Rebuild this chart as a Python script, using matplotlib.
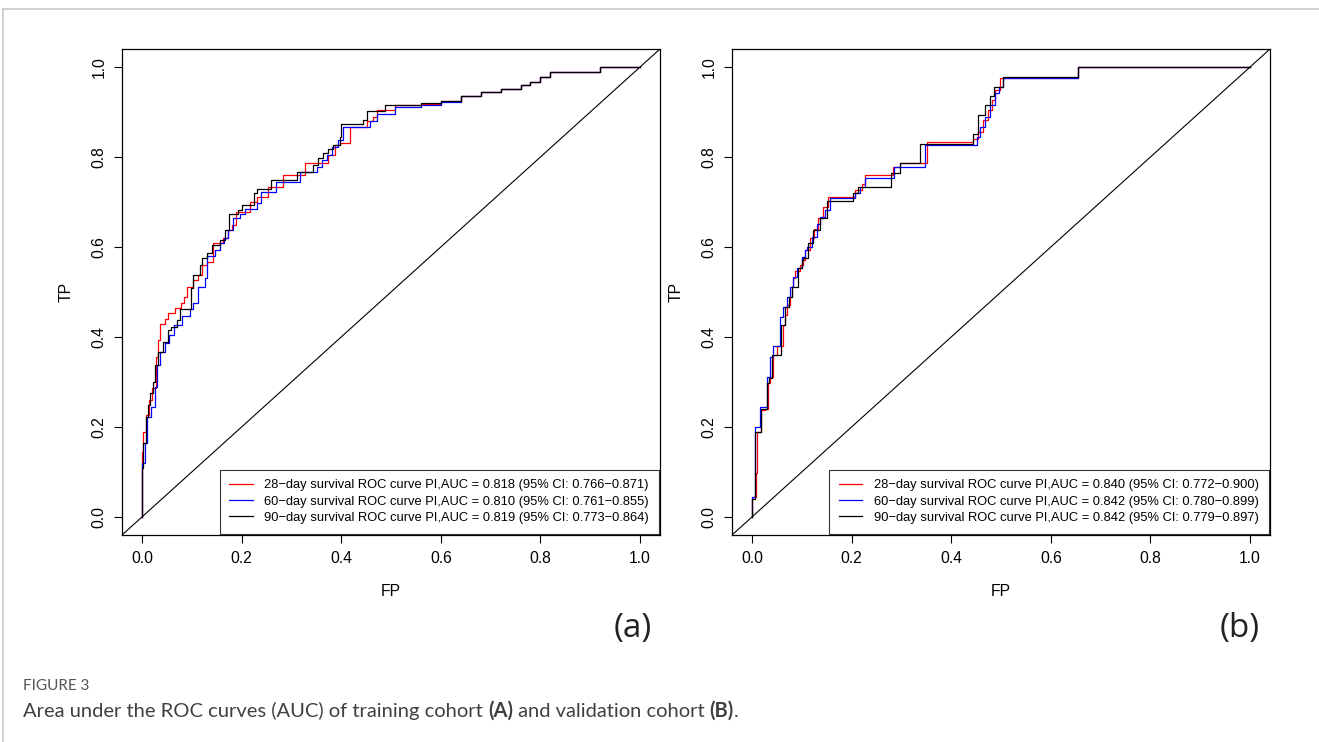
import matplotlib
matplotlib.use("Agg")
import matplotlib.pyplot as plt
from matplotlib.lines import Line2D

plt.rcParams['font.family'] = ['Liberation Sans', 'DejaVu Sans']

# training cohort (a) - step corners of each ROC curve
fp_a_28 = [0, 0, 0.003, 0.009, 0.015, 0.021, 0.028, 0.033, 0.037, 0.046, 0.053, 0.066, 0.078, 0.084,
           0.091, 0.103, 0.113, 0.12, 0.13, 0.143, 0.163, 0.173, 0.18, 0.189, 0.217, 0.23, 0.254, 0.284,
           0.327, 0.374, 0.388, 0.398, 0.418, 0.451, 0.464, 0.471, 0.508, 0.56, 0.60, 0.64, 0.68, 0.72,
           0.76, 0.78, 0.80, 0.82, 0.92, 1.0]
tp_a_28 = [0, 0.145, 0.19, 0.227, 0.26, 0.287, 0.356, 0.393, 0.429, 0.44, 0.453, 0.464, 0.475, 0.49,
           0.512, 0.527, 0.538, 0.56, 0.567, 0.609, 0.62, 0.638, 0.649, 0.678, 0.70, 0.712, 0.734, 0.76,
           0.786, 0.804, 0.826, 0.832, 0.867, 0.88, 0.889, 0.904, 0.916, 0.918, 0.925, 0.935, 0.945, 0.952,
           0.96, 0.967, 0.978, 0.99, 1.0, 1.0]

fp_a_60 = [0, 0, 0.006, 0.011, 0.019, 0.026, 0.031, 0.036, 0.046, 0.055, 0.064, 0.08, 0.096, 0.103,
           0.113, 0.127, 0.13, 0.147, 0.157, 0.165, 0.173, 0.183, 0.197, 0.207, 0.23, 0.24, 0.27, 0.317,
           0.351, 0.361, 0.371, 0.381, 0.394, 0.404, 0.458, 0.471, 0.508, 0.56, 0.60, 0.64, 0.68, 0.72,
           0.76, 0.78, 0.80, 0.82, 0.92, 1.0]
tp_a_60 = [0, 0.12, 0.164, 0.223, 0.245, 0.29, 0.338, 0.367, 0.386, 0.404, 0.427, 0.447, 0.462, 0.475,
           0.512, 0.531, 0.581, 0.593, 0.608, 0.62, 0.638, 0.664, 0.673, 0.684, 0.698, 0.723, 0.745, 0.767,
           0.778, 0.793, 0.804, 0.823, 0.838, 0.867, 0.881, 0.896, 0.911, 0.916, 0.922, 0.935, 0.945, 0.952,
           0.96, 0.967, 0.978, 0.99, 1.0, 1.0]

fp_a_90 = [0, 0, 0.003, 0.008, 0.013, 0.017, 0.023, 0.026, 0.033, 0.043, 0.053, 0.058, 0.07, 0.076,
           0.099, 0.103, 0.116, 0.12, 0.13, 0.14, 0.157, 0.167, 0.175, 0.193, 0.2, 0.224, 0.23, 0.26,
           0.311, 0.344, 0.354, 0.364, 0.374, 0.384, 0.398, 0.399, 0.444, 0.451, 0.488, 0.56, 0.60, 0.64,
           0.68, 0.72, 0.76, 0.78, 0.80, 0.82, 0.92, 1.0]
tp_a_90 = [0, 0.11, 0.164, 0.223, 0.249, 0.275, 0.301, 0.338, 0.367, 0.39, 0.416, 0.423, 0.438, 0.462,
           0.508, 0.538, 0.56, 0.576, 0.587, 0.604, 0.616, 0.638, 0.673, 0.682, 0.693, 0.719, 0.73, 0.749,
           0.767, 0.782, 0.797, 0.808, 0.818, 0.827, 0.845, 0.874, 0.882, 0.903, 0.915, 0.92, 0.925, 0.935,
           0.945, 0.952, 0.96, 0.967, 0.978, 0.99, 1.0, 1.0]

# validation cohort (b)
fp_b_28 = [0, 0, 0.008, 0.011, 0.019, 0.026, 0.033, 0.037, 0.043, 0.05, 0.062, 0.066, 0.07, 0.076,
           0.08, 0.083, 0.086, 0.096, 0.102, 0.106, 0.116, 0.124, 0.133, 0.142, 0.153, 0.207, 0.22, 0.227,
           0.284, 0.297, 0.352, 0.444, 0.454, 0.464, 0.474, 0.481, 0.488, 0.498, 0.655, 1.0]
tp_b_28 = [0, 0.045, 0.097, 0.19, 0.238, 0.24, 0.297, 0.312, 0.36, 0.38, 0.427, 0.449, 0.471, 0.49,
           0.512, 0.531, 0.547, 0.56, 0.571, 0.593, 0.619, 0.641, 0.665, 0.689, 0.712, 0.726, 0.741, 0.76,
           0.778, 0.786, 0.833, 0.84, 0.856, 0.882, 0.904, 0.927, 0.95, 0.975, 1.0, 1.0]

fp_b_60 = [0, 0, 0.006, 0.017, 0.03, 0.036, 0.043, 0.056, 0.063, 0.07, 0.076, 0.082, 0.09, 0.1,
           0.106, 0.11, 0.12, 0.13, 0.137, 0.147, 0.157, 0.207, 0.217, 0.227, 0.285, 0.347, 0.451, 0.458,
           0.468, 0.478, 0.488, 0.495, 0.505, 0.655, 1.0]
tp_b_60 = [0, 0.045, 0.2, 0.245, 0.312, 0.355, 0.379, 0.445, 0.467, 0.49, 0.512, 0.534, 0.553, 0.578,
           0.593, 0.599, 0.623, 0.652, 0.667, 0.682, 0.708, 0.719, 0.734, 0.753, 0.778, 0.827, 0.845, 0.867,
           0.888, 0.916, 0.942, 0.956, 0.975, 1.0, 1.0]

fp_b_90 = [0, 0, 0.006, 0.019, 0.03, 0.035, 0.04, 0.058, 0.066, 0.075, 0.08, 0.093, 0.1, 0.103,
           0.113, 0.123, 0.137, 0.151, 0.203, 0.213, 0.28, 0.297, 0.337, 0.444, 0.454, 0.468, 0.477, 0.486,
           0.505, 0.655, 1.0]
tp_b_90 = [0, 0.04, 0.19, 0.239, 0.297, 0.31, 0.36, 0.427, 0.467, 0.49, 0.512, 0.553, 0.571, 0.575,
           0.608, 0.638, 0.665, 0.703, 0.719, 0.734, 0.764, 0.786, 0.829, 0.851, 0.893, 0.916, 0.936, 0.956,
           0.978, 1.0, 1.0]

labels_a = ["28\u2212day survival ROC curve PI,AUC = 0.818 (95% CI: 0.766\u22120.871)",
            "60\u2212day survival ROC curve PI,AUC = 0.810 (95% CI: 0.761\u22120.855)",
            "90\u2212day survival ROC curve PI,AUC = 0.819 (95% CI: 0.773\u22120.864)"]
labels_b = ["28\u2212day survival ROC curve PI,AUC = 0.840 (95% CI: 0.772\u22120.900)",
            "60\u2212day survival ROC curve PI,AUC = 0.842 (95% CI: 0.780\u22120.899)",
            "90\u2212day survival ROC curve PI,AUC = 0.842 (95% CI: 0.779\u22120.897)"]
colors = ["#ff0000", "#0000ff", "#000000"]
ticks = [0.0, 0.2, 0.4, 0.6, 0.8, 1.0]

W, H = 1319, 742
fig = plt.figure(figsize=(W / 100, H / 100), dpi=100)
fs_leg = 9.3
fs_ax = 11.3


def panel(left_px, curves, labels, tag, tag_x):
    ax = fig.add_axes([left_px / W, 1 - 535 / H, 538 / W, 486 / H])
    for (fp, tp), lab, c in zip(curves, labels, colors):
        ax.plot(fp, tp, drawstyle='steps-post', color=c, lw=0.9, label=lab)
    ax.plot([-0.04, 1.04], [-0.04, 1.04], color='black', lw=0.8)
    ax.set_xlim(-0.04, 1.04)
    ax.set_ylim(-0.04, 1.04)
    ax.set_xticks(ticks)
    ax.set_yticks(ticks)
    ax.set_xticklabels(["%.1f" % t for t in ticks])
    ax.set_yticklabels(["%.1f" % t for t in ticks], rotation=90, va='center')
    ax.tick_params(length=6, width=0.8, labelsize=fs_ax)
    ax.tick_params(axis='x', pad=5.5)
    ax.tick_params(axis='y', pad=5)
    for s in ax.spines.values():
        s.set_linewidth(0.9)
    ax.set_xlabel("FP", fontsize=fs_ax)
    ax.set_ylabel("TP", fontsize=fs_ax)
    ax.xaxis.set_label_coords(0.5, (535 - 591) / 486)
    ax.xaxis.label.set_va('center')
    ax.yaxis.set_label_coords(-56 / 538, 0.5)
    ax.yaxis.label.set_va('center')
    leg = ax.legend(loc='lower right', fontsize=fs_leg, frameon=True, fancybox=False,
                    borderaxespad=0.1, borderpad=0.75, labelspacing=0.33,
                    handlelength=1.8, handletextpad=0.9)
    leg.get_frame().set_edgecolor('black')
    leg.get_frame().set_linewidth(0.8)
    fig.text(tag_x / W, 1 - 629 / H, tag, fontsize=24, family=['Open Sans', 'DejaVu Sans'],
             color='#222222', ha='center', va='center')
    return ax


panel(122, [(fp_a_28, tp_a_28), (fp_a_60, tp_a_60), (fp_a_90, tp_a_90)], labels_a, "(a)", 633)
panel(732, [(fp_b_28, tp_b_28), (fp_b_60, tp_b_60), (fp_b_90, tp_b_90)], labels_b, "(b)", 1240)

# page frame
fig.add_artist(Line2D([3 / W, 1], [1 - 9 / H, 1 - 9 / H], color='#c8c8c8', lw=1.2))
fig.add_artist(Line2D([3 / W, 3 / W], [0, 1 - 9 / H], color='#c8c8c8', lw=1.2))

# caption
cap_font = ['Lato', 'DejaVu Sans']
fig.text(23 / W, 1 - 686 / H, "FIGURE 3", fontsize=11, family=cap_font, color='#555555', va='center')
pieces = [("Area under the ROC curves (AUC) of training cohort ", 'normal'), ("(A)", 'bold'),
          (" and validation cohort ", 'normal'), ("(B)", 'bold'), (".", 'normal')]
renderer = fig.canvas.get_renderer()
x = 23
for txt, wt in pieces:
    t = fig.text(x / W, 1 - 717 / H, txt, fontsize=14.5, family=cap_font, color='#404040',
                 weight=wt, va='baseline')
    x += t.get_window_extent(renderer).width

fig.savefig("out.png", dpi=100)
